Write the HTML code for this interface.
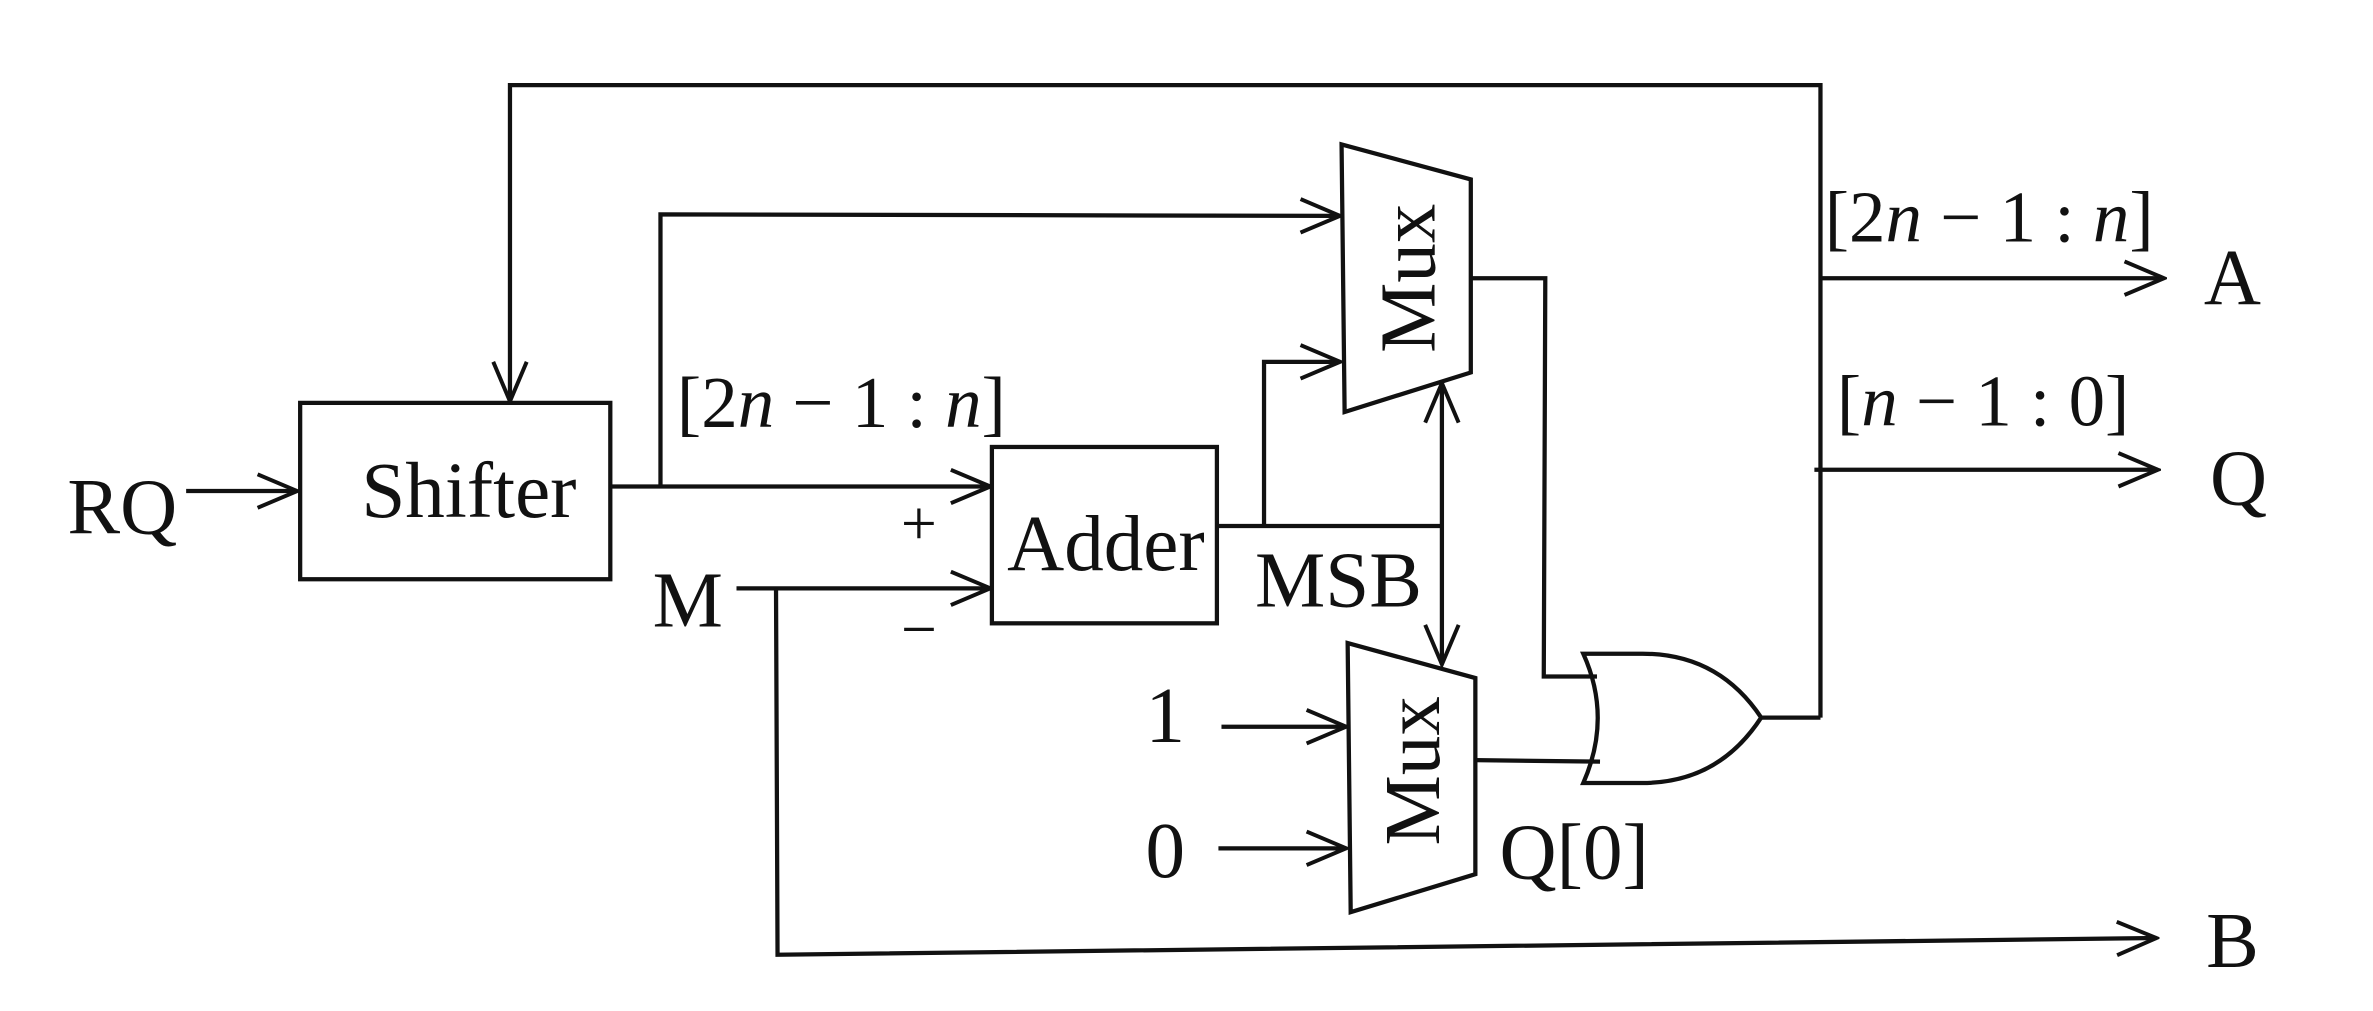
<!DOCTYPE html>
<html><head><meta charset="utf-8"><style>
html,body{margin:0;padding:0;background:#fff;}
svg{display:block;}
text{font-family:"Liberation Serif",serif;fill:#111;}
</style></head><body>
<svg width="2373" height="1011" viewBox="0 0 1560 665" xmlns="http://www.w3.org/2000/svg">
<defs>
<marker id="a" viewBox="0 0 30 30" refX="28" refY="15" markerWidth="30" markerHeight="30" markerUnits="userSpaceOnUse" orient="auto">
<polyline points="2,4 28,15 2,26" fill="none" stroke="#111" stroke-width="2.6"/>
</marker>
<marker id="as" viewBox="0 0 30 30" refX="2" refY="15" markerWidth="30" markerHeight="30" markerUnits="userSpaceOnUse" orient="auto">
<polyline points="28,4 2,15 28,26" fill="none" stroke="#111" stroke-width="2.6"/>
</marker>
</defs>
<g fill="none" stroke="#111" stroke-width="2.8">
<polyline points="1197,472 1197,56 335,56 335,264" marker-end="url(#a)"/>
<rect x="197" y="265" width="204" height="116"/>
<line x1="122" y1="323" x2="195" y2="323" marker-end="url(#a)"/>
<line x1="401" y1="320" x2="651" y2="320" marker-end="url(#a)"/>
<polyline points="434,320 434,141 881,142" marker-end="url(#a)"/>
<rect x="652" y="294" width="148" height="116"/>
<line x1="484" y1="387" x2="651" y2="387" marker-end="url(#a)"/>
<polyline points="510,387 511,628 1418,617" marker-end="url(#a)"/>
<line x1="800" y1="346" x2="948" y2="346"/>
<polyline points="831,346 831,238 881,238" marker-end="url(#a)"/>
<line x1="948" y1="252" x2="948" y2="437" marker-start="url(#as)" marker-end="url(#a)"/>
<polygon points="882,95 967,118 967,245 884,271"/>
<polygon points="886,423 970,446 970,575 888,600"/>
<polyline points="967,183 1016,183 1015,445 1050,445"/>
<line x1="803" y1="478" x2="885" y2="478" marker-end="url(#a)"/>
<line x1="801" y1="558" x2="885" y2="558" marker-end="url(#a)"/>
<line x1="970" y1="500" x2="1052" y2="501"/>
<path d="M1041,430 L1080,430 Q1130,430 1158,472 Q1130,515 1080,515 L1041,515 Q1060,472 1041,430 Z"/>
<line x1="1158" y1="472" x2="1197" y2="472"/>
<line x1="1197" y1="183" x2="1423" y2="183" marker-end="url(#a)"/>
<line x1="1193" y1="309" x2="1419" y2="309" marker-end="url(#a)"/>
</g>
<g font-size="52">
<text x="80" y="351" text-anchor="middle">RQ</text>
<text x="308" y="340" text-anchor="middle">Shifter</text>
<text x="727" y="375" text-anchor="middle">Adder</text>
<text x="452" y="412" text-anchor="middle">M</text>
<text x="880" y="399" text-anchor="middle">MSB</text>
<text x="766" y="488" text-anchor="middle">1</text>
<text x="766" y="577" text-anchor="middle">0</text>
<text x="1035" y="578" text-anchor="middle">Q[0]</text>
<text x="1468" y="200" text-anchor="middle">A</text>
<text x="1472" y="332" text-anchor="middle">Q</text>
<text x="1468" y="636" text-anchor="middle">B</text>
<text x="604" y="358" text-anchor="middle" font-size="42">+</text>
<text x="604" y="428" text-anchor="middle" font-size="42">−</text>
<text transform="translate(943,183) rotate(-90)" text-anchor="middle">Mux</text>
<text transform="translate(946,507) rotate(-90)" text-anchor="middle">Mux</text>
</g>
<g font-size="48">
<text x="553" y="281" text-anchor="middle">[2<tspan font-style="italic">n</tspan> − 1 : <tspan font-style="italic">n</tspan>]</text>
<text x="1308" y="159" text-anchor="middle">[2<tspan font-style="italic">n</tspan> − 1 : <tspan font-style="italic">n</tspan>]</text>
<text x="1304" y="280" text-anchor="middle">[<tspan font-style="italic">n</tspan> − 1 : 0]</text>
</g>
</svg>
</body></html>
